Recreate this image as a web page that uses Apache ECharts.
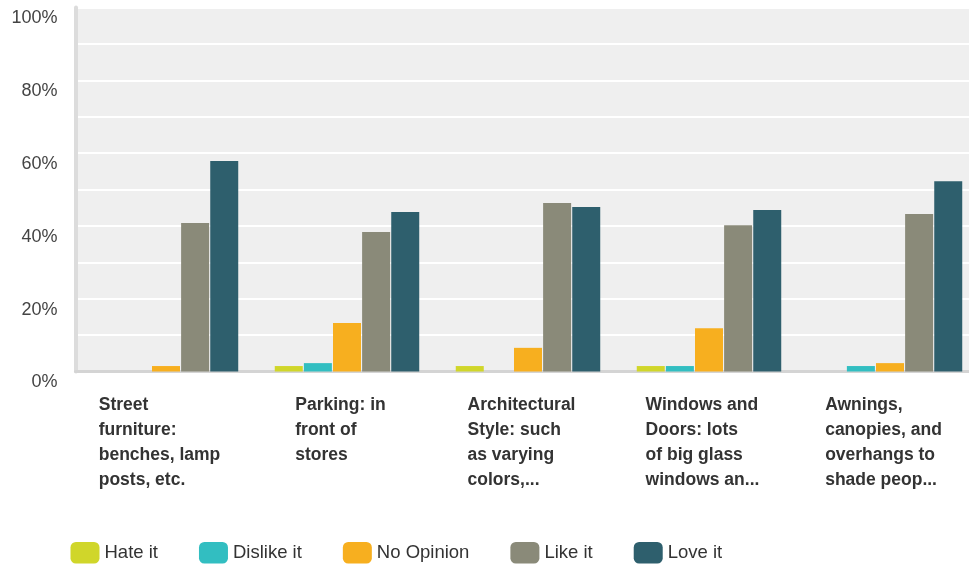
<!DOCTYPE html>
<html>
<head>
<meta charset="utf-8">
<script src="https://cdn.jsdelivr.net/npm/echarts@6/dist/echarts.min.js"></script>
<style>
html,body{margin:0;padding:0;background:#fff;}
#chart{width:969px;height:565px;}
</style>
</head>
<body>
<div id="chart"></div>
<script>
const categories = [
  "Street\nfurniture:\nbenches, lamp\nposts, etc.",
  "Parking: in\nfront of\nstores",
  "Architectural\nStyle: such\nas varying\ncolors,...",
  "Windows and\nDoors: lots\nof big glass\nwindows an...",
  "Awnings,\ncanopies, and\noverhangs to\nshade peop..."
];
const seriesNames = ["Hate it", "Dislike it", "No Opinion", "Like it", "Love it"];
const hateIt = [0, 1.5, 1.5, 1.5, 0];
const dislikeIt = [0, 2.3, 0, 1.5, 1.5];
const noOpinion = [1.5, 13.3, 6.5, 11.9, 2.3];
const likeIt = [40.8, 38.3, 46.3, 40.2, 43.3];
const loveIt = [57.8, 43.8, 45.2, 44.4, 52.3];
const yTicks = [0, 20, 40, 60, 80, 100];
const colors = ['#D0D62A', '#32BEC1', '#F7AF1F', '#8A8A79', '#2E5F6D'];

const seriesData = [hateIt, dislikeIt, noOpinion, likeIt, loveIt];
const chart = echarts.init(document.getElementById('chart'), null, {renderer: 'canvas'});
const option = {
  animation: false,
  color: colors,
  textStyle: {fontFamily: 'Liberation Sans, Arial, sans-serif'},
  legend: {
    left: 65.5,
    top: 537,
    itemWidth: 29,
    itemHeight: 21.5,
    itemGap: 41,
    icon: 'roundRect',
    textStyle: {fontSize: 18.5, color: '#333', fontFamily: 'Liberation Sans, Arial, sans-serif'},
    data: seriesNames
  },
  grid: {
    left: 75.5,
    right: -11.5,
    top: 7.5,
    height: 364,
    show: true,
    backgroundColor: '#efefef',
    borderWidth: 0,
    outerBoundsMode: 'none',
    containLabel: false
  },
  xAxis: {
    type: 'category',
    data: categories,
    axisLine: {show: true, lineStyle: {color: '#d4d4d4', width: 3}},
    axisTick: {show: false},
    axisLabel: {
      interval: 0,
      margin: 21,
      padding: [0, 13, 0, 0],
      formatter: function (v) {
        return v.split('\n').map(function (l) { return '{a|' + l + '}'; }).join('\n');
      },
      rich: {
        a: {
          fontSize: 17.5,
          fontWeight: 'bold',
          color: '#333',
          lineHeight: 25,
          align: 'left',
          fontFamily: 'Liberation Sans, Arial, sans-serif'
        }
      }
    }
  },
  yAxis: {
    type: 'value',
    min: 0,
    max: 100,
    interval: 10,
    axisLine: {show: true, lineStyle: {color: '#dcdcdc', width: 4}},
    axisTick: {show: false},
    splitLine: {show: true, lineStyle: {color: '#ffffff', width: 2}},
    axisLabel: {
      margin: 18,
      fontSize: 18,
      lineHeight: 22,
      color: '#444',
      verticalAlign: 'top',
      formatter: function (v) { return yTicks.indexOf(v) >= 0 ? v + '%' : ''; }
    }
  },
  series: seriesNames.map(function (name, i) {
    return {
      name: name,
      type: 'bar',
      data: seriesData[i],
      barWidth: 28,
      barGap: '4%',
      itemStyle: {color: colors[i]}
    };
  })
};
chart.setOption(option);
</script>
</body>
</html>
